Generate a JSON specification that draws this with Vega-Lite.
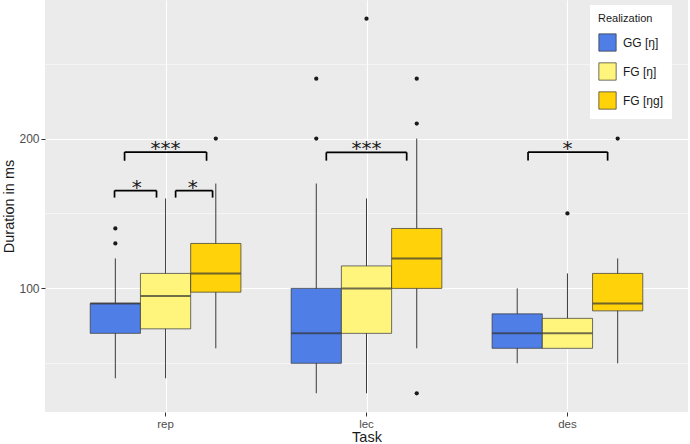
{
  "$schema": "https://vega.github.io/schema/vega-lite/v6.json",
  "width": 643,
  "height": 412,
  "autosize": {"type": "none"},
  "padding": {"left": 45, "top": 0, "right": 2, "bottom": 32},
  "background": "white",
  "config": {
    "view": {"fill": "#EBEBEB", "stroke": null},
    "font": "Liberation Sans"
  },
  "datasets": {
    "boxes": [
      {"task": "rep", "group": "GG [ŋ]", "q1": 70, "med": 90, "q3": 90, "lo": 40, "hi": 120},
      {"task": "rep", "group": "FG [ŋ]", "q1": 73, "med": 95, "q3": 110, "lo": 40, "hi": 160},
      {"task": "rep", "group": "FG [ŋg]", "q1": 97.5, "med": 110, "q3": 130, "lo": 60, "hi": 170},
      {"task": "lec", "group": "GG [ŋ]", "q1": 50, "med": 70, "q3": 100, "lo": 30, "hi": 170},
      {"task": "lec", "group": "FG [ŋ]", "q1": 70, "med": 100, "q3": 115, "lo": 30, "hi": 160},
      {"task": "lec", "group": "FG [ŋg]", "q1": 100, "med": 120, "q3": 140, "lo": 60, "hi": 200},
      {"task": "des", "group": "GG [ŋ]", "q1": 60, "med": 70, "q3": 83, "lo": 50, "hi": 100},
      {"task": "des", "group": "FG [ŋ]", "q1": 60, "med": 70, "q3": 80, "lo": 60, "hi": 110},
      {"task": "des", "group": "FG [ŋg]", "q1": 85, "med": 90, "q3": 110, "lo": 50, "hi": 120}
    ],
    "outliers": [
      {"task": "rep", "group": "GG [ŋ]", "v": 130},
      {"task": "rep", "group": "GG [ŋ]", "v": 140},
      {"task": "rep", "group": "FG [ŋg]", "v": 200},
      {"task": "lec", "group": "GG [ŋ]", "v": 200},
      {"task": "lec", "group": "GG [ŋ]", "v": 240},
      {"task": "lec", "group": "FG [ŋ]", "v": 280},
      {"task": "lec", "group": "FG [ŋg]", "v": 30},
      {"task": "lec", "group": "FG [ŋg]", "v": 210},
      {"task": "lec", "group": "FG [ŋg]", "v": 240},
      {"task": "des", "group": "FG [ŋ]", "v": 150},
      {"task": "des", "group": "FG [ŋg]", "v": 200}
    ],
    "brackets": [
      {"x1": 0.746, "x2": 0.955, "mid": 0.856, "top": 165.3, "tip": 160.6, "label": "*"},
      {"x1": 1.05, "x2": 1.234, "mid": 1.135, "top": 165.3, "tip": 160.6, "label": "*"},
      {"x1": 0.796, "x2": 1.204, "mid": 1.0, "top": 191, "tip": 185.2, "label": "***"},
      {"x1": 1.8, "x2": 2.2, "mid": 2.0, "top": 190.8, "tip": 185.3, "label": "***"},
      {"x1": 2.804, "x2": 3.2, "mid": 3.0, "top": 191, "tip": 185.3, "label": "*"}
    ]
  },
  "layer": [
    {
      "layer": [
        {
          "data": {"name": "boxes"},
          "mark": {"type": "rule", "color": "#3a3a3a", "strokeWidth": 1},
          "encoding": {
            "x": {
              "field": "task", "type": "nominal",
              "scale": {"domain": ["rep", "lec", "des"], "paddingInner": 0, "paddingOuter": 0.1},
              "axis": {
                "title": "Task", "grid": false, "domain": false, "labelAngle": 0,
                "tickColor": "#333333", "tickSize": 4, "labelColor": "#4D4D4D",
                "labelFontSize": 11.5, "labelPadding": 2, "labelBaseline": "top",
                "titleFontSize": 14.5, "titleFontWeight": "normal", "titleColor": "#1a1a1a", "titlePadding": 1
              }
            },
            "xOffset": {
              "field": "group", "type": "nominal",
              "scale": {"domain": ["GG [ŋ]", "FG [ŋ]", "FG [ŋg]"], "paddingInner": 0, "paddingOuter": 0.5}
            },
            "y": {
              "field": "lo", "type": "quantitative",
              "scale": {"domain": [17.5, 292.5], "nice": false, "zero": false},
              "axis": {
                "title": "Duration in ms",
                "values": [50, 100, 150, 200, 250],
                "grid": true, "gridColor": "white",
                "gridWidth": {"condition": {"test": "datum.value % 100 === 0", "value": 1.1}, "value": 0.5},
                "tickOpacity": {"condition": {"test": "datum.value % 100 === 0", "value": 1}, "value": 0},
                "labelExpr": "datum.value % 100 === 0 ? datum.label : ''",
                "domain": false, "tickColor": "#333333", "tickSize": 4,
                "labelColor": "#4D4D4D", "labelFontSize": 12, "labelPadding": 2,
                "titleFontSize": 14.5, "titleFontWeight": "normal", "titleColor": "#1a1a1a", "titlePadding": 2
              }
            },
            "y2": {"field": "hi"}
          }
        },
        {
          "data": {"name": "boxes"},
          "mark": {"type": "bar", "stroke": "#333333", "strokeWidth": 0.7},
          "encoding": {
            "x": {"field": "task", "type": "nominal"},
            "xOffset": {"field": "group", "type": "nominal"},
            "y": {"field": "q1", "type": "quantitative"},
            "y2": {"field": "q3"},
            "fill": {
              "field": "group", "type": "nominal",
              "scale": {"domain": ["GG [ŋ]", "FG [ŋ]", "FG [ŋg]"], "range": ["#4F7EE6", "#FFF57C", "#FFD20A"]},
              "legend": {
                "title": "Realization", "orient": "none", "legendX": 545, "legendY": 5,
                "fillColor": "white", "padding": 8,
                "titleFontSize": 11, "titleFontWeight": "normal", "titleColor": "#1a1a1a", "titlePadding": 9,
                "labelFontSize": 12, "labelColor": "#1a1a1a", "labelOffset": 6,
                "symbolType": "square", "symbolSize": 300, "symbolStrokeColor": "#333333",
                "symbolStrokeWidth": 0.7, "symbolOpacity": 1, "rowPadding": 8
              }
            }
          }
        },
        {
          "data": {"name": "boxes"},
          "mark": {"type": "tick", "color": "#333333", "thickness": 2, "size": 50, "orient": "horizontal"},
          "encoding": {
            "x": {"field": "task", "type": "nominal"},
            "xOffset": {"field": "group", "type": "nominal"},
            "y": {"field": "med", "type": "quantitative"}
          }
        },
        {
          "data": {"name": "outliers"},
          "mark": {"type": "point", "filled": true, "color": "#1a1a1a", "size": 18, "opacity": 1},
          "encoding": {
            "x": {"field": "task", "type": "nominal"},
            "xOffset": {"field": "group", "type": "nominal"},
            "y": {"field": "v", "type": "quantitative"}
          }
        }
      ]
    },
    {
      "data": {"name": "brackets"},
      "layer": [
        {
          "mark": {"type": "rule", "color": "black", "strokeWidth": 1.7},
          "encoding": {
            "x": {
              "field": "x1", "type": "quantitative",
              "scale": {"domain": [0.4, 3.6], "nice": false, "zero": false},
              "axis": {"values": [1, 2, 3], "grid": true, "gridColor": "white", "gridWidth": 1.1,
                       "labels": false, "ticks": false, "domain": false, "title": null}
            },
            "x2": {"field": "x2"},
            "y": {"field": "top", "type": "quantitative"}
          }
        },
        {
          "mark": {"type": "rule", "color": "black", "strokeWidth": 1.7},
          "encoding": {
            "x": {"field": "x1", "type": "quantitative"},
            "y": {"field": "tip", "type": "quantitative"},
            "y2": {"field": "top"}
          }
        },
        {
          "mark": {"type": "rule", "color": "black", "strokeWidth": 1.7},
          "encoding": {
            "x": {"field": "x2", "type": "quantitative"},
            "y": {"field": "tip", "type": "quantitative"},
            "y2": {"field": "top"}
          }
        },
        {
          "mark": {"type": "text", "fontSize": 20, "color": "#1a1a1a", "baseline": "alphabetic", "dy": 3, "font": "DejaVu Sans"},
          "encoding": {
            "x": {"field": "mid", "type": "quantitative"},
            "y": {"field": "top", "type": "quantitative"},
            "text": {"field": "label"}
          }
        }
      ]
    }
  ],
  "resolve": {"scale": {"x": "independent"}, "axis": {"x": "independent"}}
}
